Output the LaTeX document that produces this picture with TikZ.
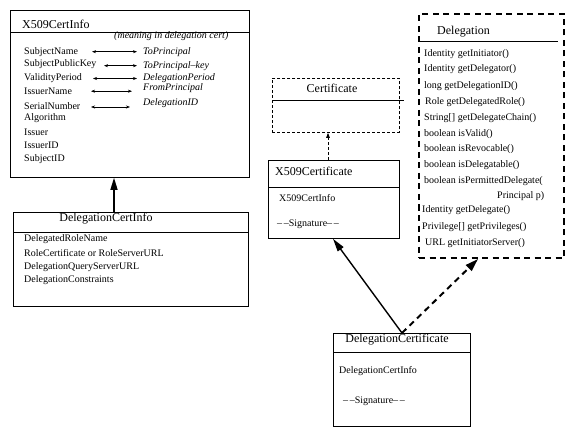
\documentclass[tikz,border=0pt]{standalone}
\usepackage{fontspec}
\setmainfont{Liberation Serif}
\usetikzlibrary{arrows.meta}
\begin{document}
\begin{tikzpicture}[x=1pt,y=-1pt,
  box/.style={draw,line width=0.8pt,anchor=north west,inner sep=0,minimum width=#1},
  txt/.style={anchor=west,inner sep=0,font=\fontsize{10}{12}\selectfont},
  itx/.style={anchor=west,inner sep=0,font=\fontsize{10}{12}\selectfont\itshape},
  ttl/.style={inner sep=0,font=\fontsize{12}{14}\selectfont},
  dbl/.style={line width=0.6pt,{Stealth[length=4pt,width=3pt]}-{Stealth[length=4pt,width=3pt]}},
  bigarrow/.style={line width=1.4pt,-{Triangle[length=13pt,width=7pt]}},
  thinbox/.style={draw,line width=0.8pt},
]
\useasboundingbox[fill=white] (0,0) rectangle (580,438);

% ---------- X509CertInfo ----------
\node[box=239pt,minimum height=167pt] (xci) at (10,10) {};
\draw[line width=0.8pt] (xci.west |- 0,32.3) -- (xci.east |- 0,32.3);
\node[ttl,anchor=west] (xcit) at (22,24) {X509CertInfo};
\node[itx] (mean) at (114,35.7) {(meaning in delegation cert)};
\node[txt] (r1) at (24,51.7) {SubjectName};
\node[txt] (r2) at (24,64.3) {SubjectPublicKey};
\node[txt] (r3) at (24,78.3) {ValidityPeriod};
\node[txt] (r4) at (24,91.5) {IssuerName};
\node[txt] (r5) at (24,106) {SerialNumber};
\node[txt] (r6) at (24,118.3) {Algorithm};
\node[txt] (r7) at (24,132) {Issuer};
\node[txt] (r8) at (24,145.3) {IssuerID};
\node[txt] (r9) at (24,159) {SubjectID};
\node[itx] (m1) at (143,51.7) {ToPrincipal};
\node[itx] (m2) at (143,66.5) {ToPrincipal--key};
\node[itx] (m3) at (143,78) {DelegationPeriod};
\node[itx] (m4) at (143,88.3) {FromPrincipal};
\node[itx] (m5) at (143,103.3) {DelegationID};
\coordinate (a1s) at (92,51.7);  \coordinate (a1e) at (137,51.7);
\coordinate (a2s) at (104,65.7); \coordinate (a2e) at (137,65.7);
\coordinate (a3s) at (93,78.5);  \coordinate (a3e) at (137,78.5);
\coordinate (a4s) at (91,91.2);  \coordinate (a4e) at (132,91.2);
\coordinate (a5s) at (91,107);   \coordinate (a5e) at (130,107);
\draw[dbl] (a1s) -- (a1e);
\draw[dbl] (a2s) -- (a2e);
\draw[dbl] (a3s) -- (a3e);
\draw[dbl] (a4s) -- (a4e);
\draw[dbl] (a5s) -- (a5e);

% ---------- DelegationCertInfo ----------
\node[box=235pt,minimum height=94pt] (dci) at (13,212) {};
\draw[line width=0.8pt] (dci.west |- 0,232.3) -- (dci.east |- 0,232.3);
\node[ttl] (dcit) at (106,219) {DelegationCertInfo};
\node[txt] (d1) at (24,239.3) {DelegatedRoleName};
\node[txt] (d2) at (24,252.7) {RoleCertificate or RoleServerURL};
\node[txt] (d3) at (24,266.7) {DelegationQueryServerURL};
\node[txt] (d4) at (24,280) {DelegationConstraints};
\draw[bigarrow,-{Triangle[length=12pt,width=7pt]}] ([xshift=101pt]dci.north west) -- ([xshift=104pt]xci.south west);

% ---------- Certificate ----------
\node[box=127pt,minimum height=54pt,dash pattern=on 3pt off 2pt] (cert) at (272,78) {};
\draw[line width=0.8pt] (cert.west |- 0,100) -- (404,100);
\node[ttl] (certt) at (332,88) {Certificate};

% ---------- X509Certificate ----------
\node[box=131pt,minimum height=78pt] (x5c) at (268,160) {};
\draw[line width=0.8pt] (x5c.west |- 0,187) -- (x5c.east |- 0,187);
\node[ttl,anchor=west] (x5ct) at (275,171.5) {X509Certificate};
\node[txt] (x5c1) at (279,198) {X509CertInfo};
\node[txt] (x5c2) at (277,224) {--\,--Signature--\,--};
\draw[line width=0.8pt,dash pattern=on 3pt off 2pt,-{Triangle[length=5pt,width=3.5pt]}] ([xshift=60pt]x5c.north west) -- ([xshift=56pt]cert.south west);

% ---------- Delegation ----------
\node[box=145pt,minimum height=244pt,line width=2pt,dash pattern=on 6pt off 4.5pt] (del) at (418,13) {};
\draw[line width=0.8pt] (del.west |- 0,41) -- (558,41);
\node[ttl,anchor=west] (delt) at (437,32) {Delegation};
\node[txt] (e1) at (424,54) {Identity getInitiator()};
\node[txt] (e2) at (424,69.5) {Identity getDelegator()};
\node[txt] (e3) at (424,86) {long getDelegationID()};
\node[txt] (e4) at (425,102) {Role getDelegatedRole()};
\node[txt] (e5) at (424,118.5) {String[] getDelegateChain()};
\node[txt] (e6) at (424,134) {boolean isValid()};
\node[txt] (e7) at (424,149.5) {boolean isRevocable()};
\node[txt] (e8) at (424,165.5) {boolean isDelegatable()};
\node[txt] (e9) at (424,181.5) {boolean isPermittedDelegate(};
\node[txt] (e10) at (497,196) {Principal p)};
\node[txt] (e11) at (422,210.5) {Identity getDelegate()};
\node[txt] (e12) at (422,227) {Privilege[] getPrivileges()};
\node[txt] (e13) at (425,243.5) {URL getInitiatorServer()};

% ---------- DelegationCertificate ----------
\node[box=137pt,minimum height=93pt] (dc) at (333,333) {};
\draw[line width=0.8pt] (dc.west |- 0,352) -- (dc.east |- 0,352);
\node[ttl] (dct) at (397,339.5) {DelegationCertificate};
\node[txt] (dc1) at (339,371) {DelegationCertInfo};
\node[txt] (dc2) at (343,401) {--\,--Signature--\,--};

% ---------- connectors ----------
\draw[bigarrow] ([xshift=69pt]dc.north west) -- ([xshift=65pt]x5c.south west);
\draw[line width=2pt,dash pattern=on 6pt off 4.5pt,-{Triangle[length=13pt,width=8pt]}] ([xshift=69pt]dc.north west) -- ([xshift=60pt]del.south west);
\end{tikzpicture}
\end{document}
